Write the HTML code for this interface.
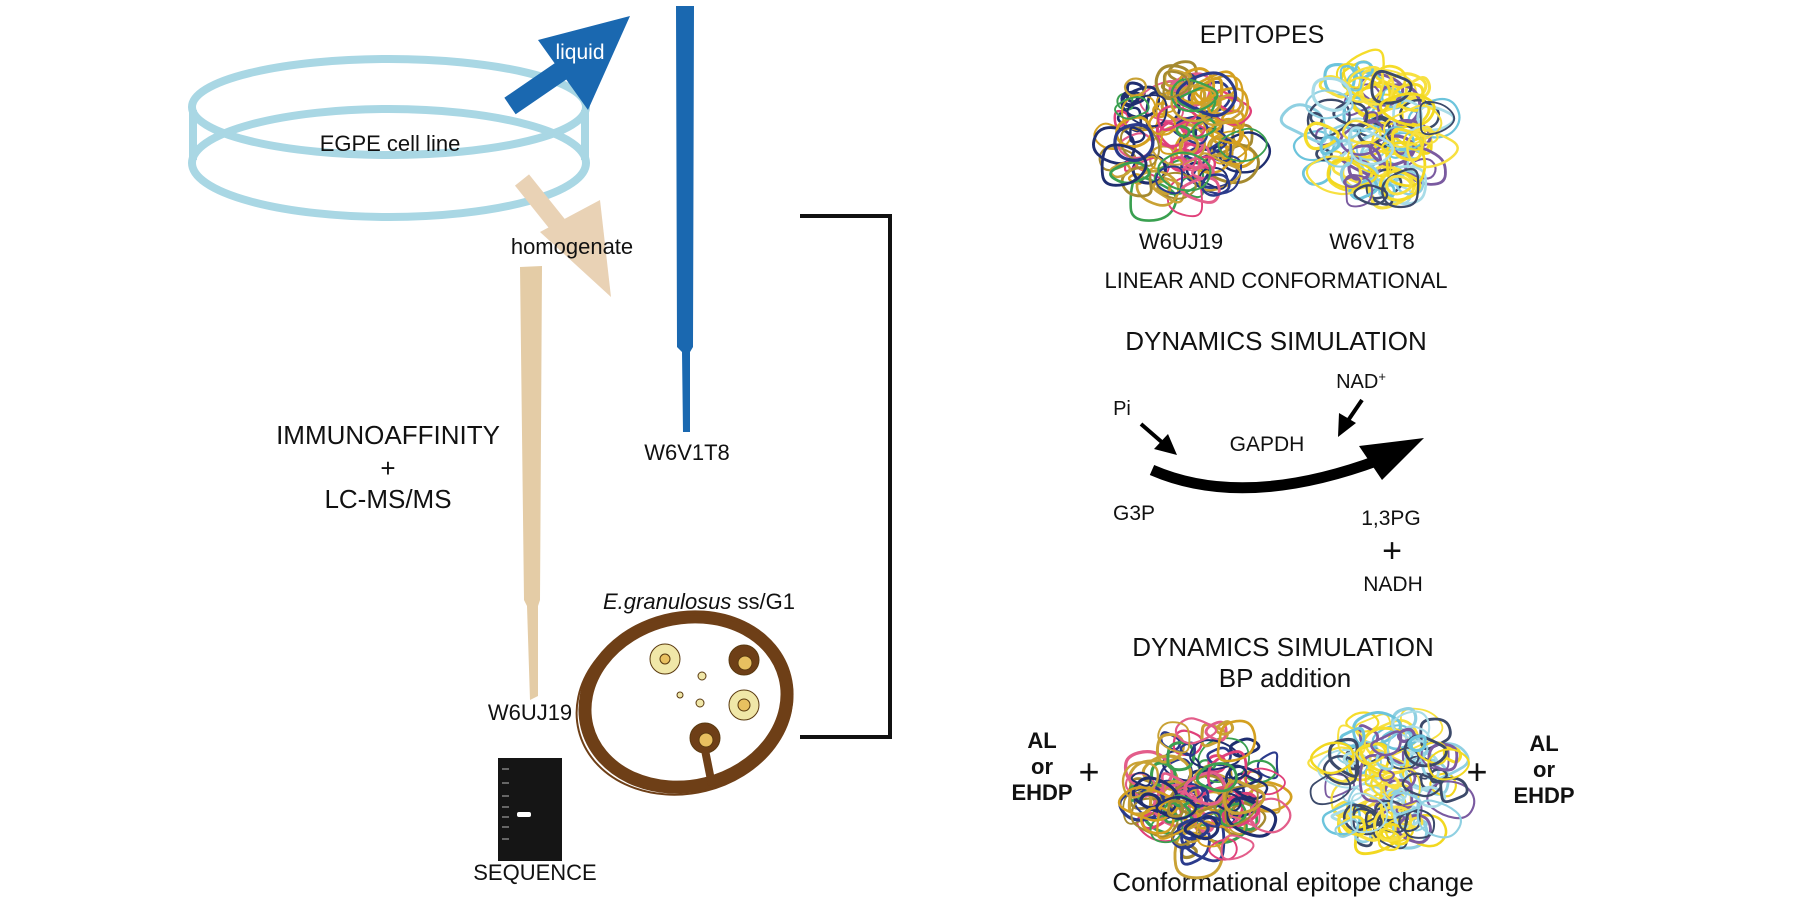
<!DOCTYPE html>
<html><head><meta charset="utf-8"><style>
html,body{margin:0;padding:0;background:#fff}
svg{display:block}
text{font-family:"Liberation Sans",Arial,sans-serif;fill:#111}
</style></head><body>
<svg id="s" width="1808" height="920" viewBox="0 0 1808 920" xmlns="http://www.w3.org/2000/svg">
<rect width="1808" height="920" fill="#fff"/>
<g fill="none" stroke="#a9d7e4" stroke-width="8">
<ellipse cx="389" cy="107" rx="197" ry="48"/>
<ellipse cx="389" cy="163" rx="197" ry="54"/>
<line x1="193" y1="110" x2="193" y2="160"/>
<line x1="585" y1="110" x2="585" y2="160"/>
</g>
<text x="390" y="151" font-size="22" text-anchor="middle">EGPE cell line</text>
<line x1="510" y1="106" x2="580" y2="58" stroke="#1a68b0" stroke-width="20"/>
<polygon points="630,16 538,40 588,110" fill="#1a68b0"/>
<text x="580" y="59" font-size="21" text-anchor="middle" style="fill:#fff">liquid</text>
<polygon points="676,6 694,6 693,347 690,352 690,432 683,432 682,352 677,347" fill="#1a68b0"/>
<text x="687" y="460" font-size="22" text-anchor="middle">W6V1T8</text>
<line x1="522" y1="180" x2="570" y2="240" stroke="#e9d2b5" stroke-width="18"/>
<polygon points="611,297 540,232 600,200" fill="#e9d2b5"/>
<text x="572" y="254" font-size="22" text-anchor="middle">homogenate</text>
<polygon points="520,267 542,266 540,600 538,606 538,696 530,700 527,606 524,600" fill="#e4cca6"/>
<text x="530" y="720" font-size="22" text-anchor="middle">W6UJ19</text>
<text x="388" y="444" font-size="26" text-anchor="middle">IMMUNOAFFINITY</text>
<text x="388" y="477" font-size="26" text-anchor="middle">+</text>
<text x="388" y="508" font-size="26" text-anchor="middle">LC-MS/MS</text>
<rect x="498" y="758" width="64" height="103" fill="#151515"/>
<g fill="#666"><rect x="502" y="768" width="7" height="2"/><rect x="502" y="782" width="7" height="2"/><rect x="502" y="795" width="7" height="2"/><rect x="502" y="806" width="7" height="2"/><rect x="502" y="816" width="7" height="2"/><rect x="502" y="826" width="7" height="2"/><rect x="502" y="838" width="7" height="2"/></g>
<rect x="517" y="812" width="14" height="5" rx="2" fill="#fff"/>
<text x="535" y="880" font-size="22" text-anchor="middle">SEQUENCE</text>
<text x="699" y="609" font-size="22" text-anchor="middle"><tspan font-style="italic">E.granulosus</tspan> ss/G1</text>
<g transform="rotate(-14 686 702)">
<ellipse cx="686" cy="702" rx="102" ry="84" fill="none" stroke="#6e3f17" stroke-width="13"/>
<ellipse cx="684" cy="704" rx="109" ry="89" fill="none" stroke="#6e3f17" stroke-width="2"/>
</g>
<g stroke="#5a3a10" stroke-width="1">
<circle cx="665" cy="659" r="15" fill="#f0e7a8"/><circle cx="665" cy="659" r="5" fill="#e8c060"/>
<circle cx="744" cy="660" r="15" fill="#6e3f17"/><circle cx="745" cy="663" r="7" fill="#e8c060"/>
<circle cx="744" cy="705" r="15" fill="#f0e7a8"/><circle cx="744" cy="705" r="6" fill="#e8c060"/>
<circle cx="705" cy="738" r="15" fill="#6e3f17"/><circle cx="706" cy="740" r="7" fill="#e8c060"/>
<circle cx="702" cy="676" r="4" fill="#f0e7a8"/><circle cx="680" cy="695" r="3" fill="#f0e7a8"/><circle cx="700" cy="703" r="4" fill="#f0e7a8"/>
</g>
<path d="M705 750 L712 785" stroke="#6e3f17" stroke-width="8"/>
<polyline points="800,216 890,216 890,737 800,737" fill="none" stroke="#111" stroke-width="4"/>
<text x="1262" y="43" font-size="25" text-anchor="middle">EPITOPES</text>
<text x="1181" y="249" font-size="22" text-anchor="middle">W6UJ19</text>
<text x="1372" y="249" font-size="22" text-anchor="middle">W6V1T8</text>
<text x="1276" y="288" font-size="22" text-anchor="middle">LINEAR AND CONFORMATIONAL</text>
<text x="1276" y="350" font-size="26" text-anchor="middle">DYNAMICS SIMULATION</text>
<text x="1361" y="388" font-size="20" text-anchor="middle">NAD<tspan font-size="13" dy="-7">+</tspan></text>
<text x="1122" y="415" font-size="20" text-anchor="middle">Pi</text>
<text x="1267" y="451" font-size="21" text-anchor="middle">GAPDH</text>
<text x="1134" y="520" font-size="21" text-anchor="middle">G3P</text>
<text x="1391" y="525" font-size="21" text-anchor="middle">1,3PG</text>
<text x="1392" y="562" font-size="34" text-anchor="middle">+</text>
<text x="1393" y="591" font-size="21" text-anchor="middle">NADH</text>
<g transform="translate(-16,0)">
<path d="M1168 470 Q1260 510 1395 460" fill="none" stroke="#000" stroke-width="11"/>
<polygon points="1440,438 1375,446 1398,480" fill="#000"/>
<line x1="1157" y1="424" x2="1180" y2="444" stroke="#000" stroke-width="4"/>
<polygon points="1193,455 1170,449 1184,434" fill="#000"/>
<line x1="1378" y1="400" x2="1363" y2="422" stroke="#000" stroke-width="4"/>
<polygon points="1354,437 1355,413 1372,423" fill="#000"/>
</g>
<text x="1283" y="656" font-size="26" text-anchor="middle">DYNAMICS SIMULATION</text>
<text x="1285" y="687" font-size="26" text-anchor="middle">BP addition</text>
<g font-weight="bold" font-size="22" text-anchor="middle">
<text x="1042" y="748">AL</text><text x="1042" y="774">or</text><text x="1042" y="800">EHDP</text>
<text x="1544" y="751">AL</text><text x="1544" y="777">or</text><text x="1544" y="803">EHDP</text>
</g>
<text x="1089" y="784" font-size="36" text-anchor="middle">+</text>
<text x="1477" y="784" font-size="36" text-anchor="middle">+</text>
<text x="1293" y="891" font-size="26" text-anchor="middle">Conformational epitope change</text>
</svg>
<script>
(function(){
var seed=7;function r(){seed=(seed*16807)%2147483647;return seed/2147483647;}
var svg=document.getElementById('s');var NS='http://www.w3.org/2000/svg';
function tangle(cx,cy,rx,ry,cols,n){
 for(var i=0;i<n;i++){
  var a=r()*6.283,d=Math.sqrt(r());var x=cx+Math.cos(a)*rx*d*0.85,y=cy+Math.sin(a)*ry*d*0.85;
  var rad=8+r()*22,k=6,pts=[];
  for(var j=0;j<k;j++){var t=j/k*6.283,rr=rad*(0.5+r()*0.8);pts.push([x+Math.cos(t)*rr,y+Math.sin(t)*rr*0.8]);}
  var p='M'+((pts[0][0]+pts[1][0])/2)+' '+((pts[0][1]+pts[1][1])/2);
  for(var j=1;j<=k;j++){var c=pts[j%k],nx=pts[(j+1)%k];p+=' Q'+c[0]+' '+c[1]+' '+((c[0]+nx[0])/2)+' '+((c[1]+nx[1])/2);}
  var e=document.createElementNS(NS,'path');e.setAttribute('d',p);e.setAttribute('fill','none');
  e.setAttribute('stroke',cols[Math.floor(r()*cols.length)]);e.setAttribute('stroke-width',(1.8+r()*1.5).toFixed(1));
  svg.appendChild(e);
 }
}
var c1=['#c9a235','#e0407a','#2b3b8c','#3aa050','#a58a30','#d4a020','#e35d8a','#1f2e70'];
var c2=['#a8dce8','#6cc4dc','#8fd0e2','#7a5aa0','#3c4a6a','#f2d820','#f5dc2a','#f7e040'];
tangle(1176,136,82,76,c1,110);
tangle(1372,134,78,76,c2,110);
tangle(1205,790,82,76,c1,110);
tangle(1392,782,78,76,c2,110);
})();
</script>
</body></html>
